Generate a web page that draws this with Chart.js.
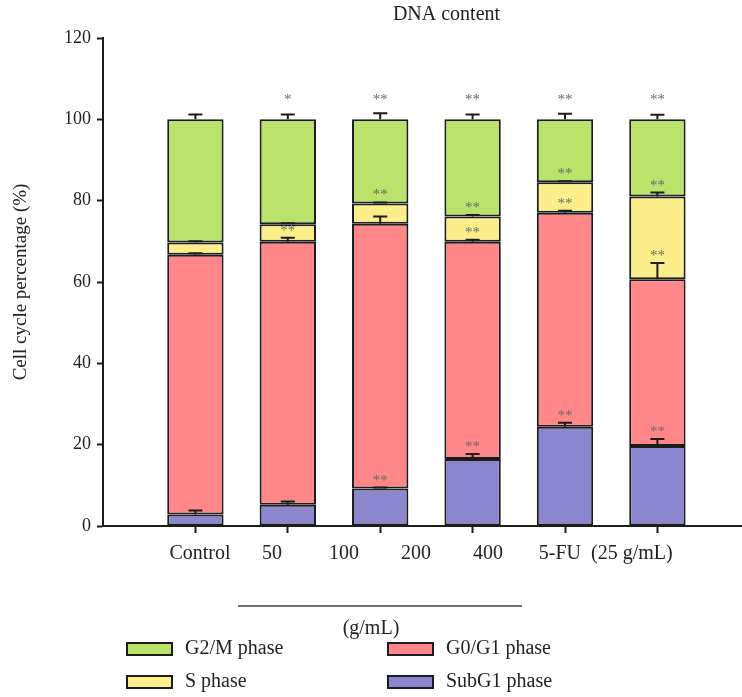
<!DOCTYPE html>
<html>
<head>
<meta charset="utf-8">
<script src="https://cdn.jsdelivr.net/npm/chart.js@4.4.1/dist/chart.umd.min.js"></script>
<style>
html, body { margin: 0; padding: 0; overflow: hidden; background: #fff; }
canvas { display: block; }
</style>
</head>
<body>
<canvas id="cycleChart" width="790" height="697"></canvas>
<script>
// bars and the label row under them (the label row is offset in the original figure)
const categories = ['Control', '50', '100', '200', '400', '5-FU'];
const xLabels = ['Control', '50', '100', '200', '400', '5-FU', '(25 g/mL)'];
const groupLabel = '(g/mL)';
const yTicks = [0, 20, 40, 60, 80, 100, 120];

// phase percentages, stacked bottom-up
const subG1 = [2.8, 5.2, 9.2, 16.5, 24.4, 19.7];
const g0g1 = [63.9, 64.7, 65.1, 53.4, 52.6, 41.0];
const sPhase = [3.0, 4.3, 5.0, 6.2, 7.5, 20.3];
const g2m = [30.3, 25.8, 20.7, 23.9, 15.5, 19.0];

// error bars (upper side only)
const subG1Err = [1.0, 0.8, 0.25, 1.2, 1.0, 1.7];
const g0g1Err = [0.35, 1.0, 1.8, 0.5, 0.5, 4.0];
const sPhaseErr = [0.3, 0.25, 0.25, 0.35, 0.25, 1.0];
const g2mErr = [1.2, 1.2, 1.5, 1.2, 1.4, 1.1];

// significance marks
const subG1Stars = ['', '', '**', '**', '**', '**'];
const g0g1Stars = ['', '**', '', '**', '**', '**'];
const sPhaseStars = ['', '', '**', '**', '**', '**'];
const g2mStars = ['', '*', '**', '**', '**', '**'];

const serif = "'Liberation Serif', 'DejaVu Serif', serif";
const ink = '#1c1c1c';

function points(values) {
    return values.map((v, i) => ({ x: i + 1, y: v }));
}

// error bars, stars, label row, group bracket and legend
const extras = {
    id: 'extras',
    afterDatasetsDraw(chart) {
        const ctx = chart.ctx;
        const yScale = chart.scales.y;
        const sets = chart.data.datasets;
        ctx.save();
        ctx.strokeStyle = ink;
        ctx.lineWidth = 2;
        ctx.font = '15px ' + serif;
        ctx.textAlign = 'center';
        ctx.textBaseline = 'alphabetic';
        sets.forEach((ds, d) => {
            const meta = chart.getDatasetMeta(d);
            meta.data.forEach((bar, i) => {
                let cum = 0;
                for (let k = 0; k <= d; k++) cum += sets[k].data[i].y;
                const topPx = yScale.getPixelForValue(cum);
                const errPx = yScale.getPixelForValue(cum + ds.errors[i]);
                ctx.beginPath();
                ctx.moveTo(bar.x, topPx);
                ctx.lineTo(bar.x, errPx);
                ctx.moveTo(bar.x - 7, errPx);
                ctx.lineTo(bar.x + 7, errPx);
                ctx.stroke();
                const star = ds.stars[i];
                if (star) {
                    let cy = errPx - 11;
                    if (d === sets.length - 1) cy = yScale.getPixelForValue(100) - 23;
                    ctx.fillStyle = '#6a6a6a';
                    ctx.fillText(star, bar.x, cy + 8);
                }
            });
        });
        ctx.restore();
    },
    afterDraw(chart) {
        const ctx = chart.ctx;
        const xScale = chart.scales.x;
        const area = chart.chartArea;
        ctx.save();
        ctx.fillStyle = '#222';
        ctx.font = '20px ' + serif;
        ctx.textAlign = 'center';
        ctx.textBaseline = 'middle';
        const labelX = xLabels.map((t, k) => xScale.getPixelForValue(1.05 + k * 0.779));
        xLabels.forEach((t, k) => ctx.fillText(t, labelX[k], area.bottom + 28));

        // bracket under the extract concentrations
        const x0 = labelX[1] - 34, x1 = labelX[4] + 34;
        ctx.strokeStyle = '#444';
        ctx.lineWidth = 1.3;
        ctx.beginPath();
        ctx.moveTo(x0, area.bottom + 80);
        ctx.lineTo(x1, area.bottom + 80);
        ctx.stroke();
        ctx.fillText(groupLabel, (x0 + x1) / 2 - 9, area.bottom + 103);

        // legend, two columns
        const order = [3, 1, 2, 0];
        order.forEach((d, n) => {
            const ds = chart.data.datasets[d];
            const lx = area.left + 24 + (n % 2) * 261;
            const ly = area.bottom + 123 + Math.floor(n / 2) * 33;
            ctx.fillStyle = ds.backgroundColor;
            ctx.fillRect(lx, ly - 6, 45, 12);
            ctx.strokeStyle = ink;
            ctx.lineWidth = 2;
            ctx.strokeRect(lx, ly - 6, 45, 12);
            ctx.fillStyle = '#222';
            ctx.textAlign = 'left';
            ctx.fillText(ds.label, lx + 58, ly);
        });
        ctx.restore();
    }
};

function phase(label, values, errors, stars, color) {
    return {
        label: label,
        data: points(values),
        errors: errors,
        stars: stars,
        backgroundColor: color,
        borderColor: ink,
        borderWidth: 2,
        borderSkipped: false,
        barPercentage: 1,
        categoryPercentage: 0.61
    };
}

const ctx = document.getElementById('cycleChart').getContext('2d');
const cycleChart = new Chart(ctx, {
    type: 'bar',
    data: {
        datasets: [
            phase('SubG1 phase', subG1, subG1Err, subG1Stars, '#8C86CE'),
            phase('G0/G1 phase', g0g1, g0g1Err, g0g1Stars, '#FF878A'),
            phase('S phase', sPhase, sPhaseErr, sPhaseStars, '#FBEE8B'),
            phase('G2/M phase', g2m, g2mErr, g2mStars, '#BBE26B')
        ]
    },
    options: {
        responsive: false,
        animation: false,
        layout: { padding: 0 },
        plugins: {
            legend: { display: false },
            tooltip: { enabled: false },
            title: {
                display: true,
                text: 'DNA content',
                fullSize: false,
                color: '#222',
                font: { family: serif, size: 20, weight: 'normal' },
                padding: { top: 3, bottom: 11 }
            }
        },
        scales: {
            x: {
                type: 'linear',
                stacked: true,
                offset: false,
                min: 0,
                max: 7.435,
                afterBuildTicks(scale) {
                    scale.ticks = categories.map((c, i) => ({ value: i + 1 }));
                },
                afterFit(scale) { scale.height = 171; },
                ticks: { callback: () => '' },
                grid: { offset: false, drawOnChartArea: false, color: ink, tickLength: 7, tickWidth: 2 },
                border: { color: ink, width: 2 }
            },
            y: {
                stacked: true,
                min: 0,
                max: 120,
                afterBuildTicks(scale) {
                    scale.ticks = yTicks.map(v => ({ value: v }));
                },
                afterFit(scale) { scale.width = 103; },
                ticks: { color: '#222', padding: 6, font: { family: serif, size: 18 } },
                grid: { drawOnChartArea: false, color: ink, tickLength: 6, tickWidth: 2 },
                border: { color: ink, width: 2 },
                title: {
                    display: true,
                    text: 'Cell cycle percentage (%)',
                    color: '#222',
                    font: { family: serif, size: 19 },
                    padding: { top: 10, bottom: 0 }
                }
            }
        }
    },
    plugins: [extras]
});
</script>
</body>
</html>
